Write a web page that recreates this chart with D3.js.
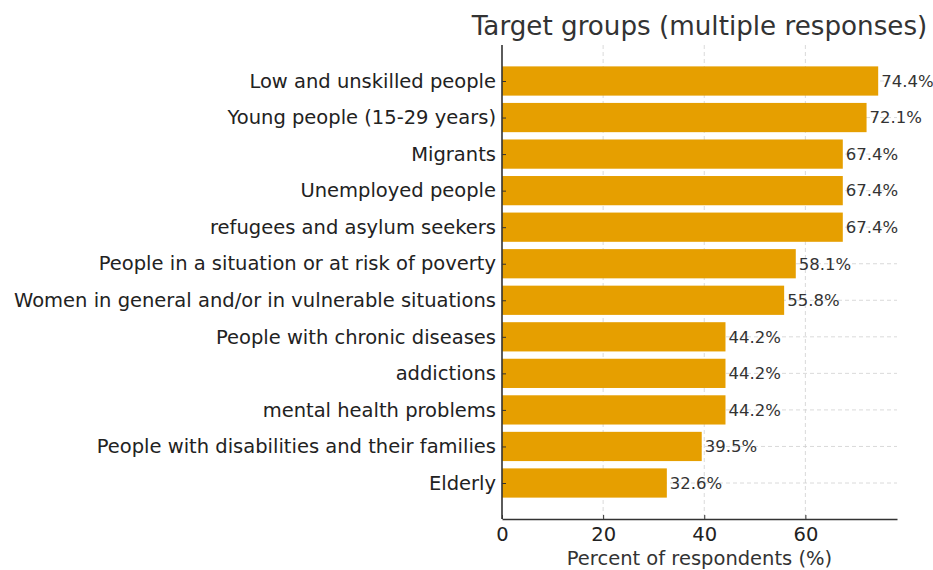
<!DOCTYPE html>
<html>
<head>
<meta charset="utf-8">
<script src="https://cdn.jsdelivr.net/npm/d3@7"></script>
<style>
  body { margin: 0; background: #fff; }
  svg { font-family: "DejaVu Sans", sans-serif; }
  .grid line { stroke: #d0d0d0; stroke-dasharray: 4,3; stroke-width: 0.8; }
</style>
</head>
<body>
<div id="chart"></div>
<script>
// categories, top to bottom
var groups = [
  "Low and unskilled people",
  "Young people (15-29 years)",
  "Migrants",
  "Unemployed people",
  "refugees and asylum seekers",
  "People in a situation or at risk of poverty",
  "Women in general and/or in vulnerable situations",
  "People with chronic diseases",
  "addictions",
  "mental health problems",
  "People with disabilities and their families",
  "Elderly"
];
var percents = [74.4, 72.1, 67.4, 67.4, 67.4, 58.1, 55.8, 44.2, 44.2, 44.2, 39.5, 32.6];
var xTicks = [0, 20, 40, 60];

var W = 933, H = 570;
var margin = { top: 45, right: 36, bottom: 51, left: 502 };
var width = W - margin.left - margin.right,
    height = H - margin.top - margin.bottom;

var svg = d3.select("#chart").append("svg")
  .attr("width", W).attr("height", H);
var g = svg.append("g")
  .attr("transform", "translate(" + margin.left + "," + margin.top + ")");

var x = d3.scaleLinear().domain([0, d3.max(percents) * 1.05]).range([0, width]);
// bar centers with some padding at both ends
var endPad = 36;
var y = d3.scalePoint().domain(groups).range([endPad, height - endPad]);
var barH = y.step() * 0.8;

// grid
var grid = g.append("g").attr("class", "grid");
grid.selectAll("line.v").data(xTicks.slice(1)).enter().append("line")
  .attr("x1", function (d) { return x(d); }).attr("x2", function (d) { return x(d); })
  .attr("y1", 0).attr("y2", height);
grid.selectAll("line.h").data(groups).enter().append("line")
  .attr("x1", 0).attr("x2", width)
  .attr("y1", function (d) { return y(d); }).attr("y2", function (d) { return y(d); });

// bars
g.selectAll("rect.bar").data(percents).enter().append("rect")
  .attr("class", "bar")
  .attr("x", 0)
  .attr("y", function (d, i) { return y(groups[i]) - barH / 2; })
  .attr("width", function (d) { return x(d); })
  .attr("height", barH)
  .attr("fill", "#E69F00");

// value labels
g.selectAll("text.val").data(percents).enter().append("text")
  .attr("x", function (d) { return x(d) + 3; })
  .attr("y", function (d, i) { return y(groups[i]); })
  .attr("dy", "0.35em")
  .attr("font-size", 16.5)
  .attr("fill", "#333")
  .text(function (d) { return d.toFixed(1) + "%"; });

// x axis
var xAxis = d3.axisBottom(x).tickValues(xTicks).tickSizeInner(-4).tickSizeOuter(0).tickPadding(8);
var xg = g.append("g").attr("transform", "translate(0," + height + ")").call(xAxis);
xg.select(".domain").attr("stroke", "#333").attr("stroke-width", 1.6);
xg.selectAll(".tick line").attr("stroke", "#333");
xg.selectAll(".tick text").attr("font-size", 19.5).attr("fill", "#222")
  .attr("font-family", "DejaVu Sans");

// y axis
var yAxis = d3.axisLeft(y).tickSizeInner(-4).tickSizeOuter(0).tickPadding(6);
var yg = g.append("g").call(yAxis);
yg.select(".domain").attr("stroke", "#333").attr("stroke-width", 1.6)
  .attr("d", "M0,0V" + height);
yg.selectAll(".tick line").attr("stroke", "#333");
yg.selectAll(".tick text").attr("font-size", 19.5).attr("fill", "#222")
  .attr("font-family", "DejaVu Sans");

// title
svg.append("text")
  .attr("x", margin.left + width / 2).attr("y", 35)
  .attr("text-anchor", "middle")
  .attr("font-size", 26.2)
  .attr("fill", "#333")
  .text("Target groups (multiple responses)");

// x label
svg.append("text")
  .attr("x", margin.left + width / 2).attr("y", 565)
  .attr("text-anchor", "middle")
  .attr("font-size", 19.5)
  .attr("fill", "#333")
  .text("Percent of respondents (%)");
</script>
</body>
</html>
